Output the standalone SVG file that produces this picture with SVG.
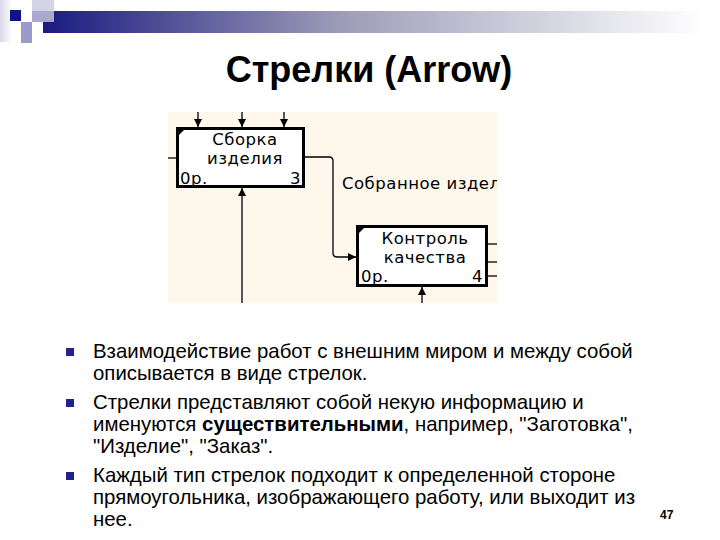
<svg xmlns="http://www.w3.org/2000/svg" width="720" height="540" viewBox="0 0 720 540">
<defs>
<linearGradient id="bar" x1="0" y1="0" x2="1" y2="0">
<stop offset="0" stop-color="#1a1a80"/>
<stop offset="0.45" stop-color="#9c9cb8"/>
<stop offset="1" stop-color="#ffffff"/>
</linearGradient>
<linearGradient id="edge" x1="0" y1="0" x2="1" y2="0">
<stop offset="0" stop-color="#d8d8e8"/>
<stop offset="1" stop-color="#ffffff"/>
</linearGradient>
<marker id="ah" viewBox="0 0 8 8" refX="8" refY="4" markerWidth="8" markerHeight="8" markerUnits="userSpaceOnUse" orient="auto">
<path d="M0,0 L8,4 L0,8 Z" fill="#000"/>
</marker>
<clipPath id="pic"><rect x="168" y="112" width="329" height="191"/></clipPath>
<style>
.t{font-family:"Liberation Sans",Arial,sans-serif;fill:#000}
.bul{font-size:20.4px}
.box{fill:#fff;stroke:#000;stroke-width:3}
.bx{font-family:"DejaVu Sans",Verdana,sans-serif;font-size:16.5px;letter-spacing:0.5px;fill:#000}
.ln{fill:none;stroke:#000;stroke-width:1.3}
.sq{fill:#22228a}
</style>
</defs>
<rect width="720" height="540" fill="#fff"/>
<!-- top decoration -->
<rect x="0" y="0" width="12" height="42" fill="url(#edge)"/>
<rect x="43" y="11" width="660" height="22" fill="url(#bar)"/>
<rect x="32" y="0" width="22" height="11" fill="#d4d4e8"/>
<rect x="32" y="11" width="22" height="11" fill="#a8a8d0"/>
<rect x="21" y="22" width="11" height="21" fill="#9a9ac8"/>
<rect x="10" y="10" width="11" height="11" fill="#12128a"/>

<text class="t" x="369" y="82" font-size="36" font-weight="bold" text-anchor="middle">Стрелки (Arrow)</text>

<rect x="168" y="112" width="329" height="191" fill="#fdf7ec"/>

<g id="connectors" clip-path="url(#pic)">
<line class="ln" x1="198" y1="112" x2="198" y2="127" marker-end="url(#ah)"/>
<line class="ln" x1="242" y1="112" x2="242" y2="127" marker-end="url(#ah)"/>
<line class="ln" x1="284" y1="112" x2="284" y2="127" marker-end="url(#ah)"/>
<line class="ln" x1="168" y1="158" x2="176" y2="158" stroke-width="3"/>
<line class="ln" x1="242" y1="303" x2="242" y2="188" marker-end="url(#ah)"/>
<path class="ln" d="M305,157 H329 Q333,157 333,161 V253 Q333,257 337,257 H356" marker-end="url(#ah)"/>
<line class="ln" x1="422" y1="303" x2="422" y2="287" marker-end="url(#ah)"/>
<line class="ln" x1="487" y1="244" x2="497" y2="244"/>
<line class="ln" x1="487" y1="262" x2="497" y2="262"/>
<line class="ln" x1="487" y1="276" x2="497" y2="276"/>
<text class="bx" x="342" y="189">Собранное издел</text>
</g>

<g id="node-assembly">
<rect class="box" x="177.5" y="128.5" width="126" height="58"/>
<path d="M179,130 L184,130 L179,135 Z" fill="#000"/>
<text class="bx" x="245" y="145" text-anchor="middle">Сборка</text>
<text class="bx" x="245" y="164" text-anchor="middle">изделия</text>
<text class="bx" x="180" y="184">0р.</text>
<text class="bx" x="301" y="184" text-anchor="end">3</text>
</g>

<g id="node-control">
<rect class="box" x="357.5" y="226.5" width="129" height="59"/>
<path d="M359,228 L364,228 L359,233 Z" fill="#000"/>
<text class="bx" x="425" y="244" text-anchor="middle">Контроль</text>
<text class="bx" x="425" y="263" text-anchor="middle">качества</text>
<text class="bx" x="361" y="282">0р.</text>
<text class="bx" x="483" y="282" text-anchor="end">4</text>
</g>

<g id="bullets">
<rect class="sq" x="66" y="348" width="8" height="8"/>
<rect class="sq" x="66" y="399" width="8" height="8"/>
<rect class="sq" x="66" y="472" width="8" height="8"/>
<text class="t bul" x="93" y="358">Взаимодействие работ с внешним миром и между собой</text>
<text class="t bul" x="93" y="380">описывается в виде стрелок.</text>
<text class="t bul" x="93" y="409">Стрелки представляют собой некую информацию и</text>
<text class="t bul" x="93" y="431">именуются <tspan font-weight="bold">существительными</tspan>, например, "Заготовка",</text>
<text class="t bul" x="93" y="453">"Изделие", "Заказ".</text>
<text class="t bul" x="93" y="482">Каждый тип стрелок подходит к определенной стороне</text>
<text class="t bul" x="93" y="504">прямоугольника, изображающего работу, или выходит из</text>
<text class="t bul" x="93" y="526">нее.</text>
</g>
<text class="t" x="660" y="519" font-size="12" font-weight="bold">47</text>
</svg>
